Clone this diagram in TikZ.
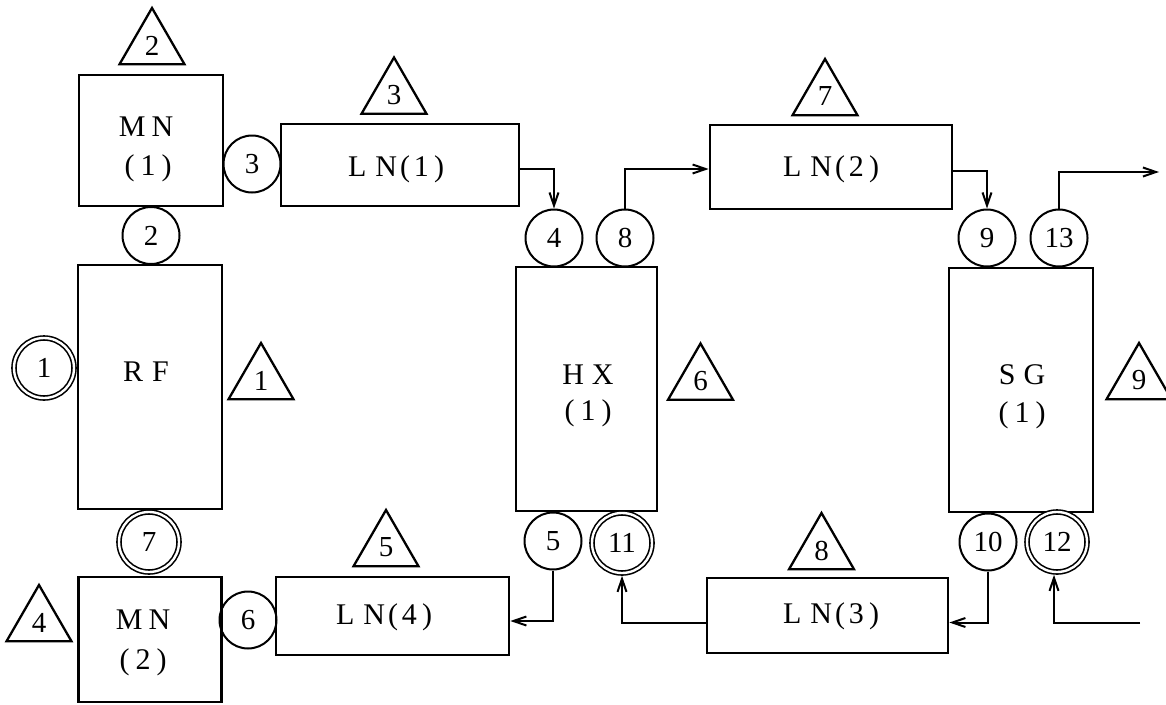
\documentclass[tikz,border=0pt]{standalone}
\usepackage{fontspec}
\setmainfont{Liberation Serif}
\usetikzlibrary{shapes.geometric,arrows.meta}
\begin{document}
\begin{tikzpicture}[x=1pt,y=-1pt,
  lbl/.style={font=\fontsize{29}{32}\selectfont},
  box/.style={draw,line width=2.7pt,inner sep=0pt},
  txt/.style={font=\fontsize{30}{33}\selectfont,inner sep=0pt},
  port/.style={lbl,circle,draw,line width=2pt,minimum size=57pt,inner sep=0pt},
  dport/.style={lbl,circle,draw,line width=1.6pt,double,double distance=2.4pt,minimum size=60pt,inner sep=0pt,outer sep=2.8pt},
  tri/.style={lbl,regular polygon,regular polygon sides=3,draw,line width=2.3pt,minimum size=75pt,inner sep=0pt},
  flow/.style={line width=2pt,-{Straight Barb[length=13pt,width=9pt]}}
]
\path[use as bounding box] (0,0) rectangle (1166,704);
\clip (0,0) rectangle (1166,704);
\fill[white] (0,0) rectangle (1166,704);

% boxes
\node[box,minimum width=144pt,minimum height=131pt] (MN1) at (151,140.5) {};
\node[box,minimum width=144pt,minimum height=244pt] (RF) at (150,387) {};
\node[box,minimum width=143pt,minimum height=125pt] (MN2) at (150,639.5) {};
\node[box,minimum width=238pt,minimum height=82pt] (LN1) at (400,165) {};
\node[box,minimum width=242pt,minimum height=84pt] (LN2) at (831,167) {};
\node[box,minimum width=241pt,minimum height=75pt] (LN3) at (827.5,615.5) {};
\node[box,minimum width=233pt,minimum height=78pt] (LN4) at (392.5,616) {};
\node[box,minimum width=141pt,minimum height=244pt] (HX) at (586.5,389) {};
\node[box,minimum width=144pt,minimum height=244pt] (SG) at (1021,390) {};

% box texts
\node[txt] (tMN1a) at (146,127) {M\kern6pt N};
\node[txt] (tMN1b) at (148,168) {(\kern6pt1\kern6pt)};
\node[txt] (tRF) at (146,372) {R\kern9pt F};
\node[txt] (tMN2a) at (143,620) {M\kern6pt N};
\node[txt] (tMN2b) at (143,662) {(\kern6pt2\kern6pt)};
\node[txt] (tHXa) at (588,375) {H\kern8pt X};
\node[txt] (tHXb) at (588,413) {(\kern6pt1\kern6pt)};
\node[txt] (tSGa) at (1022,375) {S\kern8pt G};
\node[txt] (tSGb) at (1022,415) {(\kern6pt1\kern6pt)};
\node[txt] (tLN1) at (396,169) {L\kern9pt N\kern3pt(\kern4pt1\kern5pt)};
\node[txt] (tLN2) at (831,169) {L\kern9pt N\kern3pt(\kern4pt2\kern5pt)};
\node[txt] (tLN3) at (831,616) {L\kern9pt N\kern3pt(\kern4pt3\kern5pt)};
\node[txt] (tLN4) at (384,617) {L\kern9pt N\kern3pt(\kern4pt4\kern5pt)};

% ports
\node[dport] (c1) at (44,368) {1};
\node[port] (c2) at (151,235.5) {2};
\node[port] (c3) at (252,164) {3};
\node[port] (c4) at (554,238) {4};
\node[port] (c5) at (553,541) {5};
\node[port] (c6) at (248,620) {6};
\node[dport] (c7) at (149,542) {7};
\node[port] (c8) at (625,238) {8};
\node[port] (c9) at (987,238) {9};
\node[port] (c10) at (988,542) {10};
\node[dport] (c11) at (622,543) {11};
\node[dport] (c12) at (1057,542) {12};
\node[port] (c13) at (1059,238) {13};

% triangles
\node[tri] (t1) at (261,380.5) {1};
\node[tri] (t2) at (152,45.5) {2};
\node[tri] (t3) at (394,95) {3};
\node[tri] (t4) at (39,622.5) {4};
\node[tri] (t5) at (386,547.5) {5};
\node[tri] (t6) at (700.5,381) {6};
\node[tri] (t7) at (825,96.5) {7};
\node[tri] (t8) at (821.5,550.5) {8};
\node[tri] (t9) at (1139,380.5) {9};

% connectors
\coordinate (out13) at (1159,172);
\coordinate (in12) at (1140,623);
\draw[flow] ([yshift=-4pt]LN1.east) -| (c4.north);
\draw[flow] (c8.north) |- ([yshift=-2pt]LN2.west);
\draw[flow] ([yshift=-4pt]LN2.east) -| (c9.north);
\draw[flow] (c13.north) |- (out13);
\draw[flow] (c10.south) |- ([yshift=-7pt]LN3.east);
\draw[flow] ([yshift=-7pt]LN3.west) -| (c11.south);
\draw[flow] (c5.south) |- ([yshift=-5pt]LN4.east);
\draw[flow] (in12) -| ([xshift=-3pt]c12.south);
\end{tikzpicture}
\end{document}
